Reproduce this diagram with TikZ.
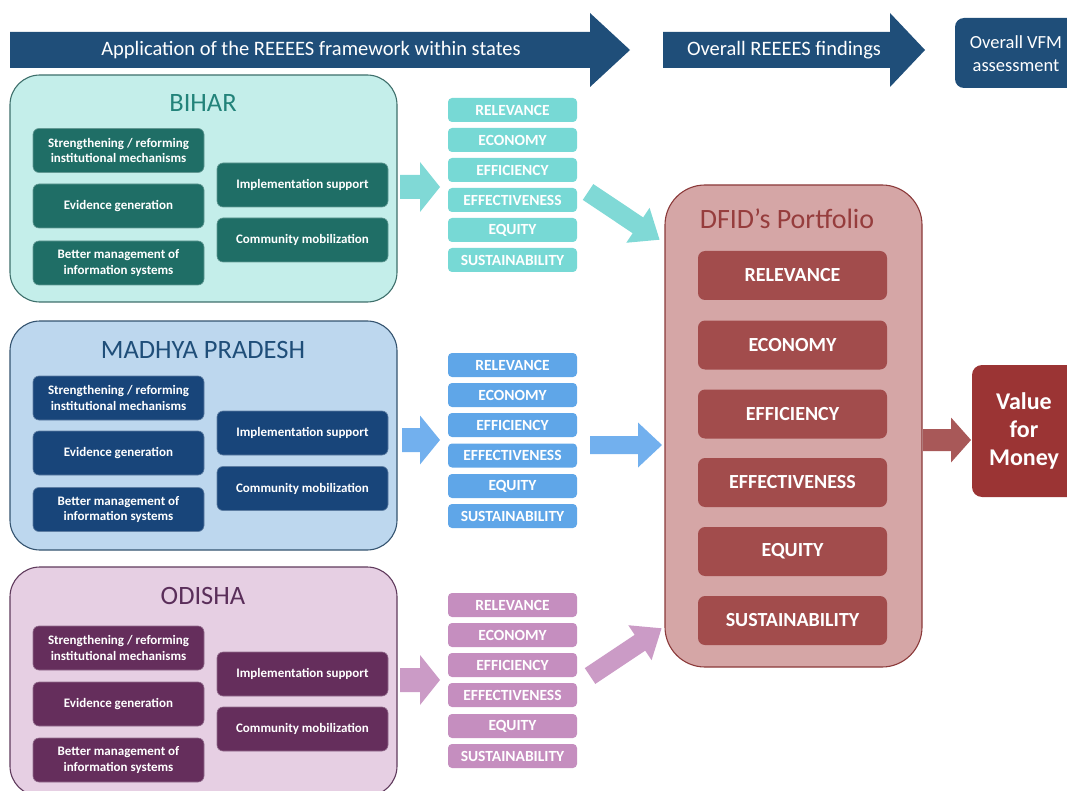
\documentclass[tikz,border=0pt]{standalone}
\usepackage{fontspec}
\setmainfont{Carlito}
\begin{document}
\begin{tikzpicture}[x=1pt,y=-1pt,
  every node/.style={inner sep=0pt,outer sep=0pt,align=center},
  statebox/.style={draw=#1,line width=1.1pt,rounded corners=30pt},
  inbox/.style={fill=#1,draw=#1!70!white,line width=0.6pt,rounded corners=6pt,minimum width=171pt,minimum height=44pt,text=white,font=\bfseries\fontsize{13}{15.5}\selectfont},
  critbox/.style={fill=#1,rounded corners=4pt,minimum width=129pt,minimum height=24pt,text=white,font=\bfseries\fontsize{15.5}{17}\selectfont},
  dfbox/.style={fill=dfinner,rounded corners=7pt,minimum width=189pt,minimum height=49pt,text=white,font=\bfseries\fontsize{20}{24}\selectfont},
  titletext/.style={font=\fontsize{26.5}{31}\selectfont,text=#1},
  bartext/.style={text=white,font=\fontsize{20.5}{24}\selectfont}]
\definecolor{navy}{HTML}{1F4E79}
\definecolor{bfill}{HTML}{C4EEEA}
\definecolor{bdraw}{HTML}{3E6F6B}
\definecolor{btitle}{HTML}{22837A}
\definecolor{binner}{HTML}{1F6E66}
\definecolor{bcrit}{HTML}{77D9D5}
\definecolor{barr}{HTML}{80D9D6}
\definecolor{mfill}{HTML}{BDD7EE}
\definecolor{mdraw}{HTML}{34536F}
\definecolor{mtitle}{HTML}{1F4E79}
\definecolor{minner}{HTML}{18457A}
\definecolor{mcrit}{HTML}{5FA6E8}
\definecolor{marr}{HTML}{72B0EE}
\definecolor{ofill}{HTML}{E6CFE3}
\definecolor{odraw}{HTML}{5F3A5C}
\definecolor{otitle}{HTML}{5A2E5A}
\definecolor{oinner}{HTML}{652E5C}
\definecolor{ocrit}{HTML}{C58EBF}
\definecolor{oarr}{HTML}{CB9BC6}
\definecolor{dfill}{HTML}{D5A6A6}
\definecolor{ddraw}{HTML}{8B3A3A}
\definecolor{dtitle}{HTML}{963D3D}
\definecolor{dfinner}{HTML}{A24C4C}
\definecolor{darr}{HTML}{A85858}
\definecolor{vbox}{HTML}{9B3434}
\newcommand{\blockarr}[7]{%
  \fill[#1,shift={#2},rotate=#3] (0,-#5) -- ({#4-#7},-#5) -- ({#4-#7},-#6) -- (#4,0) -- ({#4-#7},#6) -- ({#4-#7},#5) -- (0,#5) -- cycle;}
\useasboundingbox (0,0) rectangle (1067,791);
\begin{scope}
\clip (0,0) rectangle (1067,791);
% top bar
\blockarr{navy}{(10,50)}{0}{620}{18}{37}{40}
\blockarr{navy}{(663,50)}{0}{262}{18}{37}{35}
\node[bartext] (bar1) at (311,50) {Application of the REEEES framework within states};
\node[bartext] (bar2) at (784,50) {Overall REEEES findings};
\node[fill=navy,rounded corners=9pt,minimum width=125pt,minimum height=70pt] (vfm) at (1017.5,53) {};
\node[text=white,font=\fontsize{18.5}{23}\selectfont] (vfmt) at (1016,53.5) {Overall VFM\\assessment};
% BIHAR
\node[statebox=bdraw,fill=bfill,minimum width=387pt,minimum height=227pt] (bihar) at (203.5,188.5) {};
\node[titletext=btitle] (biht) at (203,103) {BIHAR};
\node[inbox=binner] (b1) at (118.5,150.5) {Strengthening / reforming\\institutional mechanisms};
\node[inbox=binner] (b2) at (118.5,206) {Evidence generation};
\node[inbox=binner] (b3) at (118.5,263) {Better management of\\information systems};
\node[inbox=binner] (b4) at (302.5,185) {Implementation support};
\node[inbox=binner] (b5) at (302.5,240) {Community mobilization};
\node[critbox=bcrit] (bc1) at (512.5,110) {RELEVANCE};
\node[critbox=bcrit] (bc2) at (512.5,140) {ECONOMY};
\node[critbox=bcrit] (bc3) at (512.5,170) {EFFICIENCY};
\node[critbox=bcrit] (bc4) at (512.5,200) {EFFECTIVENESS};
\node[critbox=bcrit] (bc5) at (512.5,230) {EQUITY};
\node[critbox=bcrit] (bc6) at (512.5,260) {SUSTAINABILITY};
\blockarr{barr}{(400,187)}{0}{40}{12}{25}{20}
\blockarr{barr}{(588,192)}{-33.7}{86}{9.5}{21}{26}
% MADHYA PRADESH
\node[statebox=mdraw,fill=mfill,minimum width=387pt,minimum height=229pt] (mp) at (203.5,435.5) {};
\node[titletext=mtitle] (mpt) at (203,350) {MADHYA PRADESH};
\node[inbox=minner] (m1) at (118.5,398) {Strengthening / reforming\\institutional mechanisms};
\node[inbox=minner] (m2) at (118.5,453) {Evidence generation};
\node[inbox=minner] (m3) at (118.5,509.5) {Better management of\\information systems};
\node[inbox=minner] (m4) at (302.5,433) {Implementation support};
\node[inbox=minner] (m5) at (302.5,488.5) {Community mobilization};
\node[critbox=mcrit] (mc1) at (512.5,365) {RELEVANCE};
\node[critbox=mcrit] (mc2) at (512.5,395) {ECONOMY};
\node[critbox=mcrit] (mc3) at (512.5,425) {EFFICIENCY};
\node[critbox=mcrit] (mc4) at (512.5,455.5) {EFFECTIVENESS};
\node[critbox=mcrit] (mc5) at (512.5,486) {EQUITY};
\node[critbox=mcrit] (mc6) at (512.5,516) {SUSTAINABILITY};
\blockarr{marr}{(402,440)}{0}{38}{12}{24.5}{20}
\blockarr{marr}{(590,445)}{0}{72}{9}{22.5}{24}
% ODISHA
\node[statebox=odraw,fill=ofill,minimum width=387pt,minimum height=229pt] (od) at (203.5,681.5) {};
\node[titletext=otitle] (odt) at (203,596) {ODISHA};
\node[inbox=oinner] (o1) at (118.5,648) {Strengthening / reforming\\institutional mechanisms};
\node[inbox=oinner] (o2) at (118.5,704) {Evidence generation};
\node[inbox=oinner] (o3) at (118.5,760) {Better management of\\information systems};
\node[inbox=oinner] (o4) at (302.5,674) {Implementation support};
\node[inbox=oinner] (o5) at (302.5,729) {Community mobilization};
\node[critbox=ocrit] (oc1) at (512.5,605) {RELEVANCE};
\node[critbox=ocrit] (oc2) at (512.5,635) {ECONOMY};
\node[critbox=ocrit] (oc3) at (512.5,665) {EFFICIENCY};
\node[critbox=ocrit] (oc4) at (512.5,695) {EFFECTIVENESS};
\node[critbox=ocrit] (oc5) at (512.5,726) {EQUITY};
\node[critbox=ocrit] (oc6) at (512.5,756) {SUSTAINABILITY};
\blockarr{oarr}{(400,680)}{0}{40}{12}{25}{20}
\blockarr{oarr}{(590,676)}{33.7}{86}{9.5}{21}{26}
% DFID
\node[draw=ddraw,fill=dfill,line width=1.1pt,rounded corners=40pt,minimum width=257pt,minimum height=482pt] (dfid) at (793.5,426) {};
\node[font=\fontsize{28}{32}\selectfont,text=dtitle] (dfidt) at (787,219) {DFID’s Portfolio};
\node[dfbox] (d1) at (792.5,275.5) {RELEVANCE};
\node[dfbox] (d2) at (792.5,345) {ECONOMY};
\node[dfbox] (d3) at (792.5,414) {EFFICIENCY};
\node[dfbox] (d4) at (792.5,482.5) {EFFECTIVENESS};
\node[dfbox] (d5) at (792.5,551.5) {EQUITY};
\node[dfbox] (d6) at (792.5,620.5) {SUSTAINABILITY};
\blockarr{darr}{(923,440)}{0}{48}{11}{22.5}{20}
\node[fill=vbox,rounded corners=10pt,minimum width=120pt,minimum height=132pt] (vfmbox) at (1032,431) {};
\node[text=white,font=\bfseries\fontsize{24}{28}\selectfont] (vfmtext) at (1024,431) {Value\\for\\Money};
\end{scope}
\end{tikzpicture}
\end{document}
